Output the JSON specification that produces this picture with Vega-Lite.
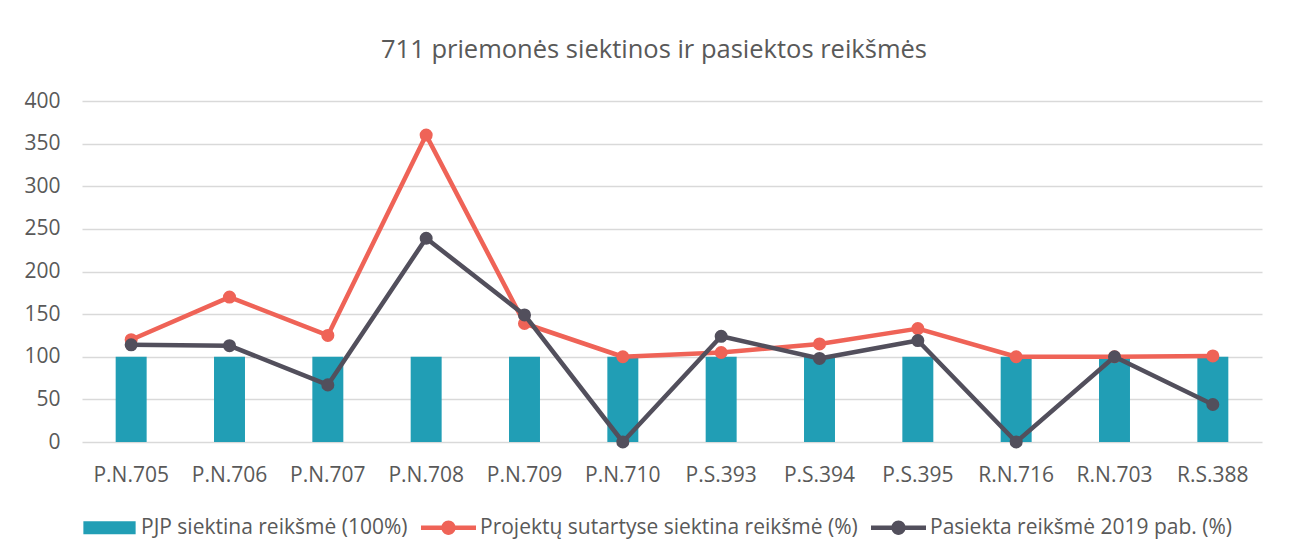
{
  "$schema": "https://vega.github.io/schema/vega-lite/v6.json",
  "width": 1180,
  "height": 341,
  "autosize": {"type": "none"},
  "padding": {"left": 82, "top": 101, "right": 34, "bottom": 116},
  "background": "white",
  "title": {
    "text": "711 priemonės siektinos ir pasiektos reikšmės",
    "anchor": "middle",
    "frame": "group",
    "dx": -18,
    "offset": 27,
    "fontSize": 25.5,
    "font": "Open Sans",
    "fontWeight": "normal",
    "color": "#595959"
  },
  "config": {
    "view": {"stroke": null},
    "font": "Open Sans",
    "axis": {"labelFont": "Open Sans", "labelColor": "#595959"}
  },
  "data": {
    "values": [
      {"kodas": "P.N.705", "serija": "PJP siektina reikšmė (100%)", "reiksme": 100},
      {"kodas": "P.N.706", "serija": "PJP siektina reikšmė (100%)", "reiksme": 100},
      {"kodas": "P.N.707", "serija": "PJP siektina reikšmė (100%)", "reiksme": 100},
      {"kodas": "P.N.708", "serija": "PJP siektina reikšmė (100%)", "reiksme": 100},
      {"kodas": "P.N.709", "serija": "PJP siektina reikšmė (100%)", "reiksme": 100},
      {"kodas": "P.N.710", "serija": "PJP siektina reikšmė (100%)", "reiksme": 100},
      {"kodas": "P.S.393", "serija": "PJP siektina reikšmė (100%)", "reiksme": 100},
      {"kodas": "P.S.394", "serija": "PJP siektina reikšmė (100%)", "reiksme": 100},
      {"kodas": "P.S.395", "serija": "PJP siektina reikšmė (100%)", "reiksme": 100},
      {"kodas": "R.N.716", "serija": "PJP siektina reikšmė (100%)", "reiksme": 100},
      {"kodas": "R.N.703", "serija": "PJP siektina reikšmė (100%)", "reiksme": 100},
      {"kodas": "R.S.388", "serija": "PJP siektina reikšmė (100%)", "reiksme": 100},
      {"kodas": "P.N.705", "serija": "Projektų sutartyse siektina reikšmė (%)", "reiksme": 120},
      {"kodas": "P.N.706", "serija": "Projektų sutartyse siektina reikšmė (%)", "reiksme": 170},
      {"kodas": "P.N.707", "serija": "Projektų sutartyse siektina reikšmė (%)", "reiksme": 125},
      {"kodas": "P.N.708", "serija": "Projektų sutartyse siektina reikšmė (%)", "reiksme": 360},
      {"kodas": "P.N.709", "serija": "Projektų sutartyse siektina reikšmė (%)", "reiksme": 139},
      {"kodas": "P.N.710", "serija": "Projektų sutartyse siektina reikšmė (%)", "reiksme": 100},
      {"kodas": "P.S.393", "serija": "Projektų sutartyse siektina reikšmė (%)", "reiksme": 105},
      {"kodas": "P.S.394", "serija": "Projektų sutartyse siektina reikšmė (%)", "reiksme": 115},
      {"kodas": "P.S.395", "serija": "Projektų sutartyse siektina reikšmė (%)", "reiksme": 133},
      {"kodas": "R.N.716", "serija": "Projektų sutartyse siektina reikšmė (%)", "reiksme": 100},
      {"kodas": "R.N.703", "serija": "Projektų sutartyse siektina reikšmė (%)", "reiksme": 100},
      {"kodas": "R.S.388", "serija": "Projektų sutartyse siektina reikšmė (%)", "reiksme": 101},
      {"kodas": "P.N.705", "serija": "Pasiekta reikšmė 2019 pab. (%)", "reiksme": 114},
      {"kodas": "P.N.706", "serija": "Pasiekta reikšmė 2019 pab. (%)", "reiksme": 113},
      {"kodas": "P.N.707", "serija": "Pasiekta reikšmė 2019 pab. (%)", "reiksme": 67},
      {"kodas": "P.N.708", "serija": "Pasiekta reikšmė 2019 pab. (%)", "reiksme": 239},
      {"kodas": "P.N.709", "serija": "Pasiekta reikšmė 2019 pab. (%)", "reiksme": 149},
      {"kodas": "P.N.710", "serija": "Pasiekta reikšmė 2019 pab. (%)", "reiksme": 0},
      {"kodas": "P.S.393", "serija": "Pasiekta reikšmė 2019 pab. (%)", "reiksme": 124},
      {"kodas": "P.S.394", "serija": "Pasiekta reikšmė 2019 pab. (%)", "reiksme": 98},
      {"kodas": "P.S.395", "serija": "Pasiekta reikšmė 2019 pab. (%)", "reiksme": 119},
      {"kodas": "R.N.716", "serija": "Pasiekta reikšmė 2019 pab. (%)", "reiksme": 0},
      {"kodas": "R.N.703", "serija": "Pasiekta reikšmė 2019 pab. (%)", "reiksme": 100},
      {"kodas": "R.S.388", "serija": "Pasiekta reikšmė 2019 pab. (%)", "reiksme": 44}
    ]
  },
  "encoding": {
    "x": {
      "field": "kodas",
      "type": "nominal",
      "sort": null,
      "scale": {"paddingInner": 0.685, "paddingOuter": 0.3425},
      "axis": {
        "title": null,
        "labelAngle": 0,
        "labelFontSize": 21,
        "labelBaseline": "alphabetic",
        "labelPadding": 39,
        "ticks": false,
        "domain": false,
        "grid": false
      }
    },
    "y": {
      "field": "reiksme",
      "type": "quantitative",
      "scale": {"domain": [0, 400], "nice": false},
      "axis": {
        "title": null,
        "values": [0, 50, 100, 150, 200, 250, 300, 350, 400],
        "labelFontSize": 21,
        "labelPadding": 22,
        "ticks": false,
        "domain": false,
        "grid": true,
        "gridColor": "#D9D9D9",
        "gridWidth": 1.5
      }
    },
    "color": {
      "field": "serija",
      "type": "nominal",
      "scale": {
        "domain": ["PJP siektina reikšmė (100%)", "Projektų sutartyse siektina reikšmė (%)", "Pasiekta reikšmė 2019 pab. (%)"],
        "range": ["#219EB5", "#EF6357", "#524F5C"]
      },
      "legend": {
        "title": null,
        "orient": "none",
        "direction": "horizontal",
        "legendX": 0,
        "legendY": 399,
        "padding": 0,
        "labelFontSize": 21,
        "labelColor": "#595959",
        "labelFont": "Open Sans",
        "labelOffset": 4,
        "columnPadding": 13,
        "symbolSize": 3025,
        "labelLimit": 600,
        "encode": {
          "symbols": {
            "update": {
              "shape": {"signal": "datum.value === 'PJP siektina reikšmė (100%)' ? 'M-0.95,-0.24H0.95V0.24H-0.95Z' : 'M-1,-0.08H1V0.08H-1Z M0.26,0A0.26,0.26,0,1,1,-0.26,0A0.26,0.26,0,1,1,0.26,0Z'"},
              "fill": {"signal": "scale('color', datum.value)"},
              "stroke": {"value": "transparent"},
              "strokeWidth": {"value": 0},
              "opacity": {"value": 1},
              "fillOpacity": {"value": 1}
            }
          }
        }
      }
    }
  },
  "layer": [
    {
      "transform": [{"filter": "datum.serija === 'PJP siektina reikšmė (100%)'"}],
      "mark": {"type": "bar"}
    },
    {
      "transform": [{"filter": "datum.serija === 'Projektų sutartyse siektina reikšmė (%)'"}],
      "mark": {"type": "line", "strokeWidth": 4.5, "strokeJoin": "round", "strokeCap": "round", "point": {"filled": true, "size": 170, "opacity": 1}}
    },
    {
      "transform": [{"filter": "datum.serija === 'Pasiekta reikšmė 2019 pab. (%)'"}],
      "mark": {"type": "line", "strokeWidth": 4.5, "strokeJoin": "round", "strokeCap": "round", "point": {"filled": true, "size": 170, "opacity": 1}}
    }
  ]
}
